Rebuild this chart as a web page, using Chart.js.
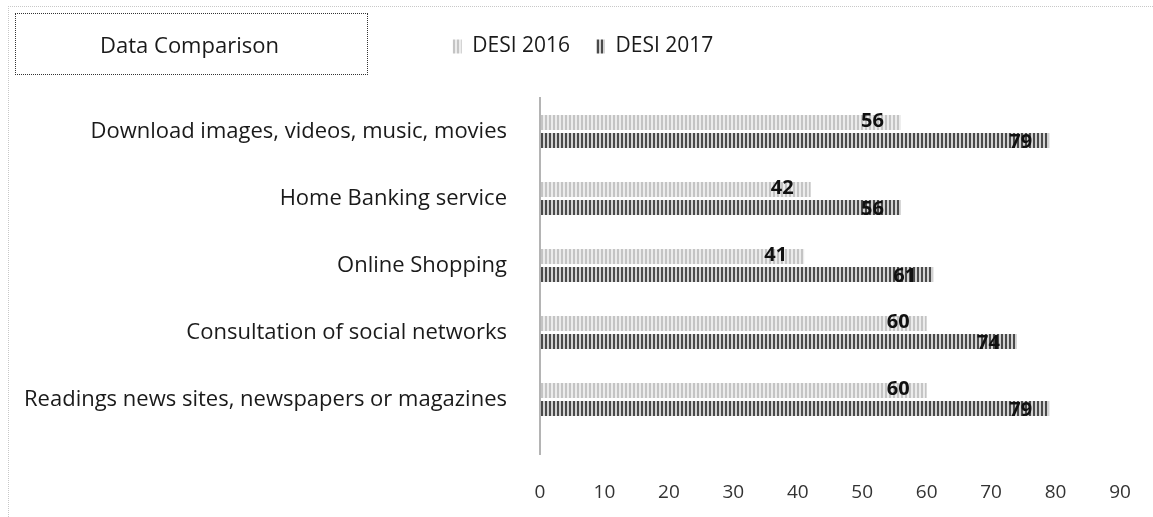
<!DOCTYPE html>
<html>
<head>
<meta charset="utf-8">
<script src="https://cdn.jsdelivr.net/npm/chart.js@4/dist/chart.umd.min.js"></script>
<style>
    html, body { margin: 0; padding: 0; background: #fff; }
    #wrap { position: relative; width: 1153px; height: 517px; }
    #frame {
        position: absolute; left: 8px; top: 6px; width: 1160px; height: 520px;
        border-left: 1px dotted #c8c8c8; border-top: 1px dotted #c8c8c8;
    }
    #titleBox {
        position: absolute; left: 15px; top: 13px; width: 353px; height: 62px;
        border: 1px dotted #333; box-sizing: border-box;
        font-family: "Open Sans", Lato, sans-serif; font-size: 22px; color: #1a1a1a;
        display: flex; align-items: center; justify-content: center;
        padding-right: 4px;
    }
    canvas { position: absolute; left: 0; top: 0; }
</style>
</head>
<body>
<div id="wrap">
    <div id="frame"></div>
    <canvas id="chart" width="1153" height="517"></canvas>
    <div id="titleBox">Data Comparison</div>
</div>
<script>
const categories = [
    'Download images, videos, music, movies',
    'Home Banking service',
    'Online Shopping',
    'Consultation of social networks',
    'Readings news sites, newspapers or magazines'
];
const seriesNames = ['DESI 2016', 'DESI 2017'];
const desi2016 = [56, 42, 41, 60, 60];
const desi2017 = [79, 56, 61, 74, 79];
const xTicks = [0, 10, 20, 30, 40, 50, 60, 70, 80, 90];

// vertical hatch fill used for the bars
function stripes(bg, line) {
    const c = document.createElement('canvas');
    c.width = 4; c.height = 4;
    const g = c.getContext('2d');
    g.fillStyle = bg;
    g.fillRect(0, 0, 4, 4);
    g.fillStyle = line;
    g.fillRect(1, 0, 2, 4);
    return g.createPattern(c, 'repeat');
}
const ctx = document.getElementById('chart').getContext('2d');
const fill2016 = stripes('#ececec', '#c4c4c4');
const fill2017 = stripes('#d2d2d2', '#4a4a4a');

const font = '"Open Sans", Lato, sans-serif';

// value labels sitting inside the end of each bar
const valueLabels = {
    id: 'valueLabels',
    afterDatasetsDraw(chart) {
        const c = chart.ctx;
        c.save();
        c.font = 'bold 20px ' + font;
        c.fillStyle = '#111';
        c.textAlign = 'right';
        c.textBaseline = 'middle';
        chart.data.datasets.forEach((ds, i) => {
            chart.getDatasetMeta(i).data.forEach((bar, j) => {
                c.fillText(ds.data[j], bar.x - 17, bar.y + (i === 1 ? 2 : -1));
            });
        });
        c.restore();
    }
};

// vertical axis line running a bit below the plot
const axisLine = {
    id: 'axisLine',
    afterDraw(chart) {
        const a = chart.chartArea;
        const c = chart.ctx;
        c.save();
        c.strokeStyle = '#b4b4b4';
        c.lineWidth = 2;
        c.beginPath();
        c.moveTo(a.left, a.top - 1);
        c.lineTo(a.left, a.bottom + 22);
        c.stroke();
        c.restore();
    }
};

// leave room under the legend and nudge it right of the title box
const legendGap = {
    id: 'legendGap',
    beforeInit(chart) {
        const fit = chart.legend.fit;
        chart.legend.fit = function () {
            fit.call(this);
            this.height = 88;
        };
    },
    afterLayout(chart) {
        chart.legend.left += 18;
        chart.legend.right += 18;
    }
};

new Chart(ctx, {
    type: 'bar',
    data: {
        labels: categories,
        datasets: [
            { label: seriesNames[0], data: desi2016, backgroundColor: fill2016 },
            { label: seriesNames[1], data: desi2017, backgroundColor: fill2017 }
        ]
    },
    options: {
        indexAxis: 'y',
        responsive: false,
        animation: false,
        layout: { padding: { left: 10, right: 33, top: 10, bottom: 0 } },
        datasets: { bar: { categoryPercentage: 0.54, barPercentage: 0.83 } },
        plugins: {
            legend: {
                position: 'top',
                labels: {
                    font: { family: font, size: 21 },
                    color: '#1a1a1a',
                    boxWidth: 9,
                    boxHeight: 14,
                    padding: 26
                }
            },
            tooltip: { enabled: false }
        },
        scales: {
            x: {
                min: 0,
                max: 90,
                afterBuildTicks: scale => { scale.ticks = xTicks.map(v => ({ value: v })); },
                afterFit: scale => { scale.height = 84; },
                grid: { display: false, drawTicks: true, tickLength: 45 },
                border: { display: false },
                ticks: { font: { family: font, size: 19 }, color: '#333', padding: 3 }
            },
            y: {
                grid: { display: false },
                border: { display: false },
                afterFit: scale => { scale.width = 530; },
                ticks: { font: { family: font, size: 22 }, color: '#1a1a1a', padding: 25 }
            }
        }
    },
    plugins: [valueLabels, axisLine, legendGap]
});
</script>
</body>
</html>
